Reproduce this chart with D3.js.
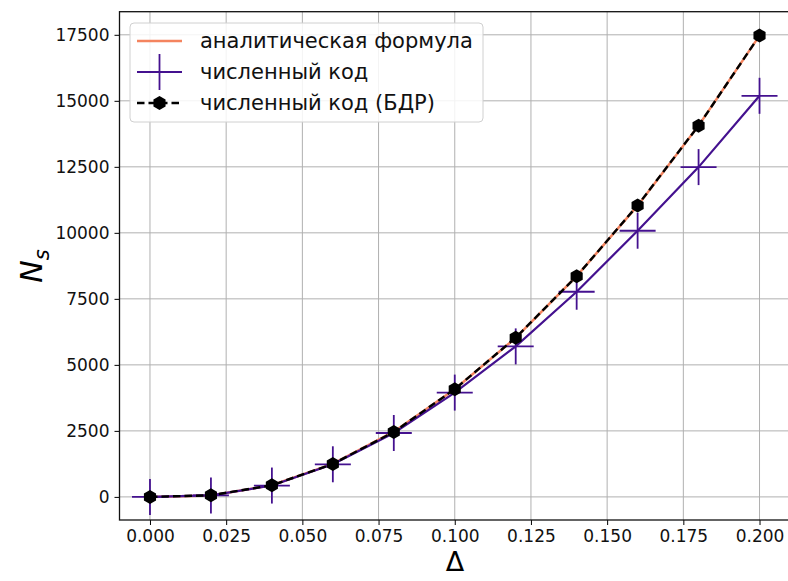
<!DOCTYPE html>
<html>
<head>
<meta charset="utf-8">
<script src="https://cdn.jsdelivr.net/npm/d3@7"></script>
<style>
  html, body { margin: 0; padding: 0; background: #fff; }
  svg { display: block; font-family: "DejaVu Sans", sans-serif; }
</style>
</head>
<body>
<svg id="chart" width="788" height="581"></svg>
<script>
// Step size Δ for every computed point
const deltas = [0, 0.02, 0.04, 0.06, 0.08, 0.10, 0.12, 0.14, 0.16, 0.18, 0.20];
// N_s from the analytic formula
const analytic = [0, 55, 440, 1250, 2470, 4080, 6020, 8360, 11030, 14060, 17470];
// N_s from the numerical code
const numeric = [0, 55, 430, 1235, 2420, 3950, 5700, 7770, 10080, 12490, 15190];
// N_s from the numerical code (БДР)
const numericBdr = [0, 60, 440, 1250, 2460, 4080, 6030, 8360, 11040, 14060, 17470];

const xTicks = [0, 0.025, 0.05, 0.075, 0.1, 0.125, 0.15, 0.175, 0.2];
const yTicks = [0, 2500, 5000, 7500, 10000, 12500, 15000, 17500];
const legendLabels = ["аналитическая формула", "численный код", "численный код (БДР)"];

const colors = { analytic: "#f4845f", numeric: "#44118f", bdr: "#000000" };

const svg = d3.select("#chart");
const plot = { left: 119.5, right: 790, top: 11.7, bottom: 520 };

const x = d3.scaleLinear().domain([-0.01, 0.21]).range([plot.left, plot.right]);
const y = d3.scaleLinear().domain([-875, 18375]).range([plot.bottom, plot.top]);

// Grid
const grid = svg.append("g").attr("stroke", "#b0b0b0").attr("stroke-width", 1);
xTicks.forEach(t => grid.append("line")
  .attr("x1", x(t)).attr("x2", x(t)).attr("y1", plot.top).attr("y2", plot.bottom));
yTicks.forEach(t => grid.append("line")
  .attr("x1", plot.left).attr("x2", plot.right).attr("y1", y(t)).attr("y2", y(t)));

// Axes
const xAxis = d3.axisBottom(x).tickValues(xTicks).tickFormat(d3.format(".3f")).tickSize(5).tickPadding(5);
const yAxis = d3.axisLeft(y).tickValues(yTicks).tickFormat(d3.format("d")).tickSize(5).tickPadding(5);

const gx = svg.append("g").attr("transform", `translate(0,${plot.bottom})`).call(xAxis);
const gy = svg.append("g").attr("transform", `translate(${plot.left},0)`).call(yAxis);
[gx, gy].forEach(g => {
  g.select(".domain").remove();
  g.selectAll(".tick line").attr("stroke", "#000").attr("stroke-width", 1);
  g.selectAll(".tick text").attr("fill", "#111").style("font-size", "17px").style("font-family", "DejaVu Sans");
});

// Frame
svg.append("rect")
  .attr("x", plot.left).attr("y", plot.top)
  .attr("width", plot.right - plot.left).attr("height", plot.bottom - plot.top)
  .attr("fill", "none").attr("stroke", "#111").attr("stroke-width", 1.3);

const line = vals => d3.line().x((d, i) => x(deltas[i])).y(d => y(d))(vals);

// Analytic curve
svg.append("path").attr("d", line(analytic))
  .attr("fill", "none").attr("stroke", colors.analytic).attr("stroke-width", 2.5);

// Numerical code: line with large plus markers
svg.append("path").attr("d", line(numeric))
  .attr("fill", "none").attr("stroke", colors.numeric).attr("stroke-width", 2.2);
const plusSize = 18;
const plus = (g, cx, cy, s, color) => {
  g.append("line").attr("x1", cx - s).attr("x2", cx + s).attr("y1", cy).attr("y2", cy)
    .attr("stroke", color).attr("stroke-width", 1.8);
  g.append("line").attr("x1", cx).attr("x2", cx).attr("y1", cy - s).attr("y2", cy + s)
    .attr("stroke", color).attr("stroke-width", 1.8);
};
const plusG = svg.append("g");
numeric.forEach((v, i) => plus(plusG, x(deltas[i]), y(v), plusSize, colors.numeric));

// Numerical code (БДР): dashed line with hexagon markers
svg.append("path").attr("d", line(numericBdr))
  .attr("fill", "none").attr("stroke", colors.bdr).attr("stroke-width", 2.4)
  .attr("stroke-dasharray", "7.5,4");
const hexPath = (cx, cy, r) => {
  const pts = d3.range(6).map(k => {
    const a = Math.PI / 2 + k * Math.PI / 3;
    return [cx + r * Math.cos(a), cy - r * Math.sin(a)];
  });
  return "M" + pts.map(p => p.join(",")).join("L") + "Z";
};
numericBdr.forEach((v, i) => svg.append("path")
  .attr("d", hexPath(x(deltas[i]), y(v), 7)).attr("fill", colors.bdr));

// Axis labels
svg.append("text").attr("x", 455).attr("y", 571).attr("text-anchor", "middle")
  .style("font-size", "27px").attr("fill", "#000").text("Δ");
const yl = svg.append("text").attr("transform", "translate(42,266) rotate(-90)")
  .attr("text-anchor", "middle").attr("fill", "#000").style("font-size", "30px");
yl.append("tspan").style("font-style", "italic").text("N");
yl.append("tspan").style("font-style", "italic").style("font-size", "21px").attr("dy", 7).text("s");

// Legend
const lg = svg.append("g");
lg.append("rect").attr("x", 130).attr("y", 23).attr("width", 353).attr("height", 99).attr("rx", 4)
  .attr("fill", "#fff").attr("fill-opacity", 0.85).attr("stroke", "#d0d0d0").attr("stroke-width", 1);
const rowY = [41, 72, 103];
const hx1 = 137, hx2 = 182, hcx = (hx1 + hx2) / 2;
lg.append("line").attr("x1", hx1).attr("x2", hx2).attr("y1", rowY[0]).attr("y2", rowY[0])
  .attr("stroke", colors.analytic).attr("stroke-width", 2.5);
lg.append("line").attr("x1", hx1).attr("x2", hx2).attr("y1", rowY[1]).attr("y2", rowY[1])
  .attr("stroke", colors.numeric).attr("stroke-width", 2.2);
plus(lg, hcx, rowY[1], plusSize, colors.numeric);
lg.append("line").attr("x1", hx1).attr("x2", hx2).attr("y1", rowY[2]).attr("y2", rowY[2])
  .attr("stroke", colors.bdr).attr("stroke-width", 2.4).attr("stroke-dasharray", "7.5,4");
lg.append("path").attr("d", hexPath(hcx, rowY[2], 7)).attr("fill", colors.bdr);
legendLabels.forEach((t, i) => lg.append("text")
  .attr("x", 200).attr("y", rowY[i]).attr("dy", "0.35em")
  .style("font-size", "21px").attr("fill", "#111").text(t));
</script>
</body>
</html>
